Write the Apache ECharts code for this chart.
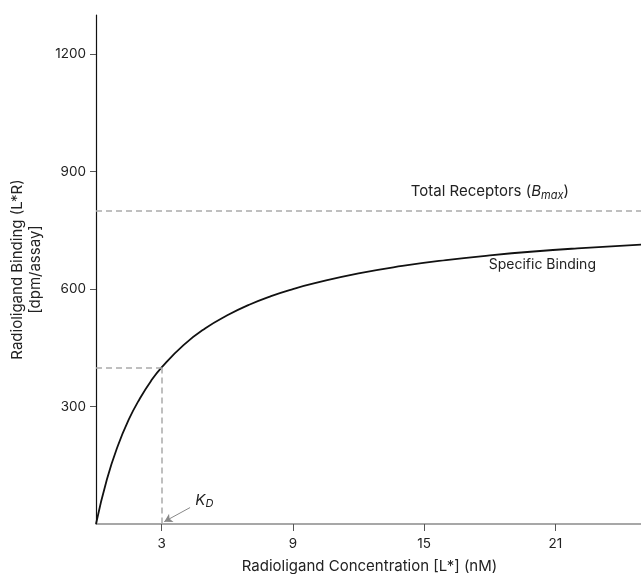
<!DOCTYPE html>
<html>
<head>
<meta charset="utf-8">
<script src="https://cdn.jsdelivr.net/npm/echarts@6/dist/echarts.min.js"></script>
<style>
  html, body { margin: 0; padding: 0; background: #fff; }
  #chart { width: 641px; height: 574px; }
</style>
</head>
<body>
<div id="chart"></div>
<script>
// radioligand concentration (nM) and specific binding (dpm/assay)
const concentration = [0, 0.5, 1, 1.5, 2, 2.5, 3, 4, 5, 6, 7, 8, 9, 10, 12, 14, 16, 18, 20, 22, 25];
const binding = [0, 114, 200, 267, 320, 364, 400, 457, 500, 533, 560, 582, 600, 615, 640, 659, 674, 686, 696, 704, 714];

const xTicks = [3, 9, 15, 21];
const yTicks = [300, 600, 900, 1200];

const bmax = 800;
const kd = 3;
const kdBinding = 400;

const chart = echarts.init(document.getElementById("chart"));
const font = "Inter";
const textColor = "#222";

const option = {
  animation: false,
  textStyle: { fontFamily: font },
  grid: { left: 96, right: -2, top: 15, bottom: 50, outerBoundsMode: "none" },
  xAxis: {
    type: "value",
    min: 0,
    max: 25,
    name: "Radioligand Concentration [L*] (nM)",
    nameLocation: "middle",
    nameGap: 35,
    nameTextStyle: { color: textColor, fontSize: 15, fontFamily: font },
    axisLine: { lineStyle: { color: "#8a8a8a", width: 1.5 } },
    axisTick: { customValues: xTicks, length: 7, lineStyle: { color: "#555" } },
    axisLabel: { customValues: xTicks, color: textColor, fontSize: 13.5, margin: 13, fontFamily: font },
    splitLine: { show: false }
  },
  yAxis: {
    type: "value",
    min: 0,
    max: 1300,
    name: "Radioligand Binding (L*R)\n[dpm/assay]",
    nameLocation: "middle",
    nameGap: 50,
    nameTextStyle: { color: textColor, fontSize: 15, lineHeight: 18, fontFamily: font },
    axisLine: { lineStyle: { color: "#111", width: 1.2 } },
    axisTick: { customValues: yTicks, length: 6, lineStyle: { color: "#555" } },
    axisLabel: {
      customValues: yTicks, color: textColor, fontSize: 13.5, margin: 10, fontFamily: font,
      formatter: v => String(v)
    },
    splitLine: { show: false }
  },
  series: [
    {
      name: "Specific Binding",
      type: "line",
      data: concentration.map((c, i) => [c, binding[i]]),
      smooth: true,
      showSymbol: false,
      lineStyle: { color: "#111", width: 1.8 },
      markLine: {
        silent: true,
        symbol: "none",
        label: { show: false },
        lineStyle: { color: "#aaa", type: [6, 4], width: 1.5 },
        data: [
          [{ coord: [0, bmax] }, { coord: [25, bmax] }],
          [{ coord: [0, kdBinding] }, { coord: [kd, kdBinding] }],
          [{ coord: [kd, kdBinding] }, { coord: [kd, 0] }]
        ]
      }
    },
    {
      // arrow pointing at K_D on the x axis
      type: "line",
      data: [],
      markLine: {
        silent: true,
        symbol: ["none", "arrow"],
        symbolSize: [7, 8],
        label: { show: false },
        lineStyle: { color: "#888", type: "solid", width: 1 },
        data: [[{ coord: [4.3, 42] }, { coord: [3.12, 6] }]]
      }
    },
    {
      type: "scatter",
      symbolSize: 0,
      silent: true,
      itemStyle: { opacity: 1 },
      data: [
        { value: [18, 848], name: "bmax" },
        { value: [20.4, 661], name: "specific" },
        { value: [4.95, 60], name: "kd" }
      ],
      label: {
        show: true,
        position: "inside",
        color: textColor,
        fontSize: 14,
        fontFamily: font,
        formatter: p => {
          if (p.name === "bmax") return "{n|Total Receptors (}{i|B}{s|max}{n|)}";
          if (p.name === "specific") return "Specific Binding";
          return "{k|K}{s|D}";
        },
        rich: {
          n: { fontSize: 15, color: textColor, fontFamily: font },
          i: { fontStyle: "italic", fontSize: 15, color: textColor, fontFamily: font },
          k: { fontStyle: "italic", fontSize: 15, color: textColor, fontFamily: font },
          s: { fontStyle: "italic", fontSize: 11, color: textColor, fontFamily: font, padding: [7, 0, 0, 0] }
        }
      }
    }
  ]
};

chart.setOption(option);
</script>
</body>
</html>
